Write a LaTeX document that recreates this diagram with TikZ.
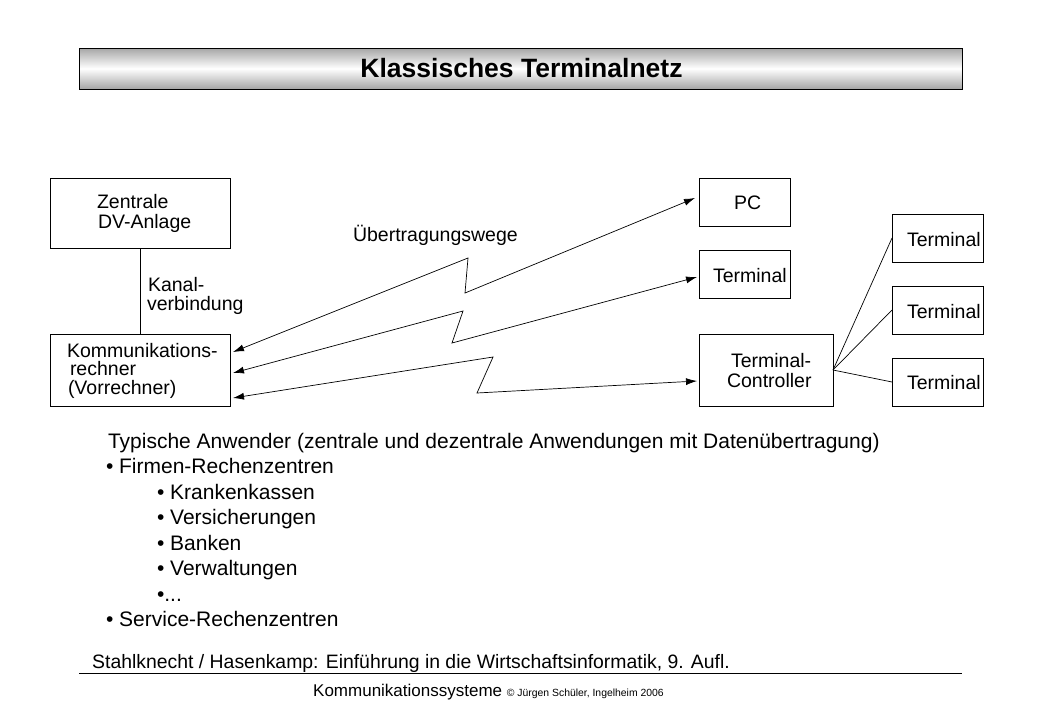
\documentclass[tikz,border=0pt]{standalone}
\usepackage{fontspec}
\setmainfont{Liberation Sans}
\usetikzlibrary{arrows.meta}
\newcommand{\fsbox}{\fontsize{19.5}{23}\selectfont}
\newcommand{\fslist}{\fontsize{21}{25}\selectfont}
\tikzset{
  box/.style={draw, line width=0.8pt, inner sep=0pt, outer sep=0pt},
  txt/.style={anchor=base west, inner sep=0pt, outer sep=0pt, font=\fsbox},
  ltxt/.style={anchor=base west, inner sep=0pt, outer sep=0pt, font=\fslist},
  conn/.style={{Latex[length=11pt,width=7pt]}-{Latex[length=11pt,width=7pt]}, line width=0.7pt},
  plain/.style={line width=0.7pt}
}
\begin{document}
\begin{tikzpicture}[x=1pt,y=-1pt]
\path[use as bounding box, fill=white] (0,0) rectangle (1040,720);
% title
\node[box, minimum width=883pt, minimum height=41pt, top color=gray!70, bottom color=gray!70, middle color=white, shading=axis] (title) at (520.5,68.5) {};
\node[anchor=base, inner sep=0pt, font=\fontsize{26.5}{30}\selectfont\bfseries] (titletxt) at (521.5,77.5) {Klassisches Terminalnetz};
% boxes
\node[box, minimum width=180pt, minimum height=70pt] (zd) at (140,213) {};
\node[box, minimum width=180pt, minimum height=72pt] (kr) at (140,370) {};
\node[box, minimum width=91pt, minimum height=48pt] (pc) at (744.5,202) {};
\node[box, minimum width=91pt, minimum height=48pt] (tm) at (744.5,274) {};
\node[box, minimum width=134pt, minimum height=72pt] (tc) at (766,370) {};
\node[box, minimum width=91pt, minimum height=48pt] (t1) at (937.5,238) {};
\node[box, minimum width=91pt, minimum height=48pt] (t2) at (937.5,310) {};
\node[box, minimum width=91pt, minimum height=48pt] (t3) at (937.5,382) {};
% box texts
\node[txt] (zd1) at (97,208) {Zentrale};
\node[txt] (zd2) at (98,228) {DV-Anlage};
\node[txt] (kr1) at (67,357) {Kommunikations-};
\node[txt] (kr2) at (70,375) {rechner};
\node[txt] (kr3) at (68,394) {(Vorrechner)};
\node[txt] (pct) at (734,209) {PC};
\node[txt] (tmt) at (713,282) {Terminal};
\node[txt] (tc1) at (731,367) {Terminal-};
\node[txt] (tc2) at (727,387) {Controller};
\node[txt] (t1t) at (907,246) {Terminal};
\node[txt] (t2t) at (907,318) {Terminal};
\node[txt] (t3t) at (907,389) {Terminal};
\node[txt] (ka1) at (148,291) {Kanal-};
\node[txt] (ka2) at (147,310.5) {verbindung};
\node[txt] (uw) at (353,241) {Übertragungswege};
% connectors
\draw[plain] (zd) -- (kr);
\draw[conn] ([xshift=3pt,yshift=18pt]kr.east) -- (468,258) -- (465,293) -- ([xshift=-4pt,yshift=4pt]pc.west);
\draw[conn] ([xshift=3pt,yshift=-3pt]kr.east) -- (463,311) -- (452,343) -- ([xshift=-2pt,yshift=-3pt]tm.west);
\draw[conn] ([xshift=3pt,yshift=-28pt]kr.east) -- (493,357) -- (477,393) -- ([xshift=-2pt,yshift=-11pt]tc.west);
\draw[plain] (tc.east) -- (t1.west);
\draw[plain] (tc.east) -- (t2.west);
\draw[plain] (tc.east) -- (t3.west);
% list
\node[ltxt] (l0) at (108,448) {Typische Anwender (zentrale und dezentrale Anwendungen mit Datenübertragung)};
\node[ltxt] (l1) at (106,473.5) {• Firmen-Rechenzentren};
\node[ltxt] (l2) at (157,499) {• Krankenkassen};
\node[ltxt] (l3) at (157,524.5) {• Versicherungen};
\node[ltxt] (l4) at (157,550) {• Banken};
\node[ltxt] (l5) at (157,575.5) {• Verwaltungen};
\node[ltxt] (l6) at (157,601) {•...};
\node[ltxt] (l7) at (106,626.5) {• Service-Rechenzentren};
% footer
\node[anchor=base west, inner sep=0pt, font=\fontsize{19.4}{22}\selectfont] (src) at (92,668) {Stahlknecht / Hasenkamp: Einführung in die Wirtschaftsinformatik, 9. Aufl.};
\draw[line width=0.8pt] (79,673) -- (962,673);
\node[anchor=base west, inner sep=0pt] (ft) at (313,696) {\fontsize{17}{20}\selectfont Kommunikationssysteme \fontsize{10.4}{12}\selectfont © Jürgen Schüler, Ingelheim 2006};
\end{tikzpicture}
\end{document}
